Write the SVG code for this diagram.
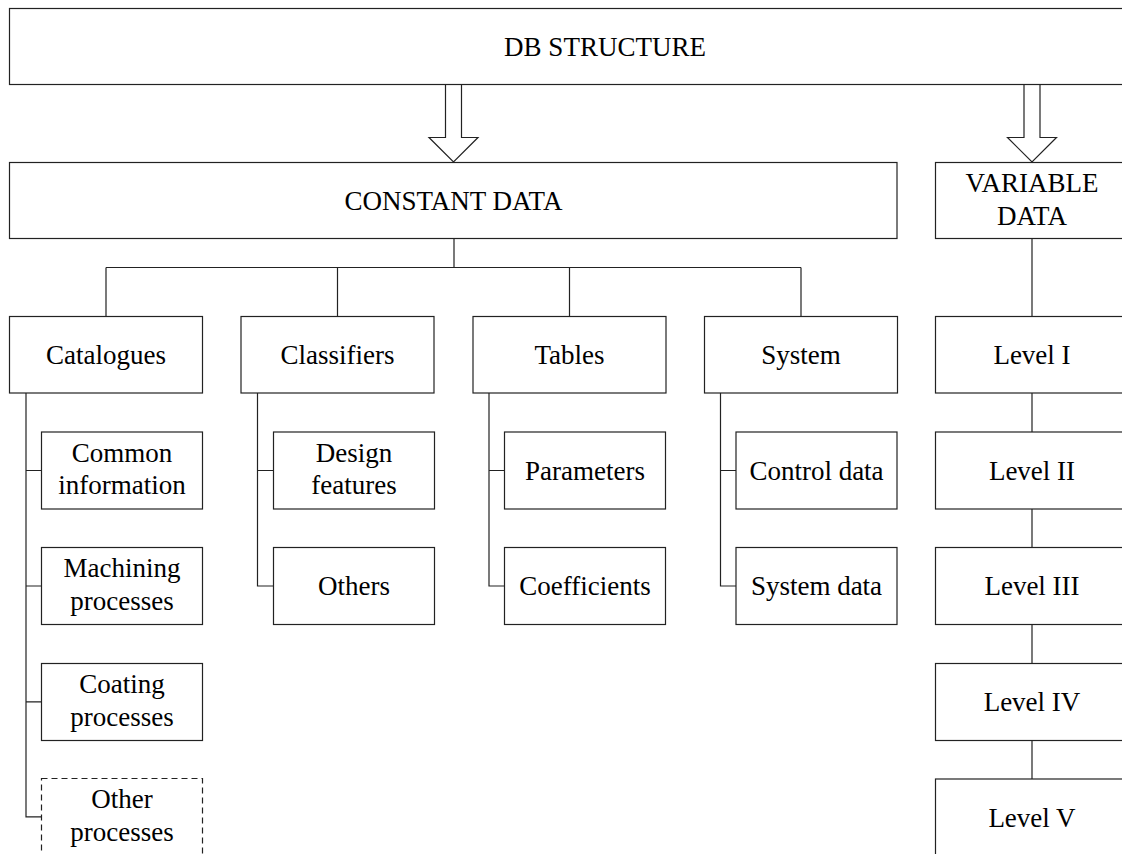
<svg xmlns="http://www.w3.org/2000/svg" width="1122" height="854" viewBox="0 0 1122 854">
<defs>
<style>
.box{fill:#fff;stroke:#222;stroke-width:1.2}
.dash{fill:#fff;stroke:#222;stroke-width:1.2;stroke-dasharray:6 4}
.ln{fill:none;stroke:#222;stroke-width:1.2}
.arr{fill:#fff;stroke:#222;stroke-width:1.2;stroke-linejoin:miter}
text{font-family:"Liberation Serif","Times New Roman",serif;font-size:27px;fill:#000;text-anchor:middle}
</style>
</defs>
<rect width="1122" height="854" fill="#fff"/>
<g id="connectors">
<path class="arr" d="M445.5,85 V137.5 H429 L453.5,162 L478,137.5 H461.5 V85"/>
<path class="arr" d="M1024,85 V137.5 H1007.5 L1032,162 L1056.5,137.5 H1040 V85"/>
<path class="ln" d="M454,238.5 V267.5 M106,267.5 H801 M106,267.5 V316.5 M337.5,267.5 V316.5 M569.5,267.5 V316.5 M801,267.5 V316.5"/>
<path class="ln" d="M26,393 V816.8 H41.5 M26,470.5 H41.5 M26,586 H41.5 M26,701.8 H41.5"/>
<path class="ln" d="M257.5,393 V586 H273.5 M257.5,470.5 H273.5"/>
<path class="ln" d="M489,393 V586 H504.5 M489,470.5 H504.5"/>
<path class="ln" d="M720.5,393 V586 H736 M720.5,470.5 H736"/>
<path class="ln" d="M1032,238.5 V316.5 M1032,393 V432 M1032,509 V547.5 M1032,624.5 V663.5 M1032,740.5 V779"/>
</g>
<g id="db-structure"><rect class="box" x="9.5" y="8.5" width="1140" height="76"/><text x="605" y="56">DB STRUCTURE</text></g>
<g id="constant-data"><rect class="box" x="9.5" y="162.5" width="887.5" height="76"/><text x="453.5" y="210">CONSTANT DATA</text></g>
<g id="variable-data"><rect class="box" x="935.5" y="162.5" width="220" height="76"/><text x="1032" y="191.5">VARIABLE</text><text x="1032" y="225">DATA</text></g>
<g id="catalogues"><rect class="box" x="9.5" y="316.5" width="193" height="76.5"/><text x="106" y="363.5">Catalogues</text></g>
<g id="classifiers"><rect class="box" x="241" y="316.5" width="193" height="76.5"/><text x="337.5" y="363.5">Classifiers</text></g>
<g id="tables"><rect class="box" x="473" y="316.5" width="193" height="76.5"/><text x="569.5" y="363.5">Tables</text></g>
<g id="system"><rect class="box" x="704.5" y="316.5" width="193" height="76.5"/><text x="801" y="363.5">System</text></g>
<g id="common-information"><rect class="box" x="41.5" y="432" width="161" height="77"/><text x="122" y="461.5">Common</text><text x="122" y="494">information</text></g>
<g id="machining-processes"><rect class="box" x="41.5" y="547.5" width="161" height="77"/><text x="122" y="577">Machining</text><text x="122" y="609.5">processes</text></g>
<g id="coating-processes"><rect class="box" x="41.5" y="663.5" width="161" height="77"/><text x="122" y="693">Coating</text><text x="122" y="725.5">processes</text></g>
<g id="other-processes"><rect class="dash" x="41.5" y="778.5" width="161" height="90"/><text x="122" y="808">Other</text><text x="122" y="841">processes</text></g>
<g id="design-features"><rect class="box" x="273.5" y="432" width="161" height="77"/><text x="354" y="461.5">Design</text><text x="354" y="494">features</text></g>
<g id="others"><rect class="box" x="273.5" y="547.5" width="161" height="77"/><text x="354" y="595">Others</text></g>
<g id="parameters"><rect class="box" x="504.5" y="432" width="161" height="77"/><text x="585" y="479.5">Parameters</text></g>
<g id="coefficients"><rect class="box" x="504.5" y="547.5" width="161" height="77"/><text x="585" y="595">Coefficients</text></g>
<g id="control-data"><rect class="box" x="736" y="432" width="161" height="77"/><text x="816.5" y="479.5">Control data</text></g>
<g id="system-data"><rect class="box" x="736" y="547.5" width="161" height="77"/><text x="816.5" y="595">System data</text></g>
<g id="level-1"><rect class="box" x="935.5" y="316.5" width="220" height="76.5"/><text x="1032" y="363.5">Level I</text></g>
<g id="level-2"><rect class="box" x="935.5" y="432" width="220" height="77"/><text x="1032" y="479.5">Level II</text></g>
<g id="level-3"><rect class="box" x="935.5" y="547.5" width="220" height="77"/><text x="1032" y="595">Level III</text></g>
<g id="level-4"><rect class="box" x="935.5" y="663.5" width="220" height="77"/><text x="1032" y="711">Level IV</text></g>
<g id="level-5"><rect class="box" x="935.5" y="779" width="220" height="90"/><text x="1032" y="826.5">Level V</text></g>
</svg>
